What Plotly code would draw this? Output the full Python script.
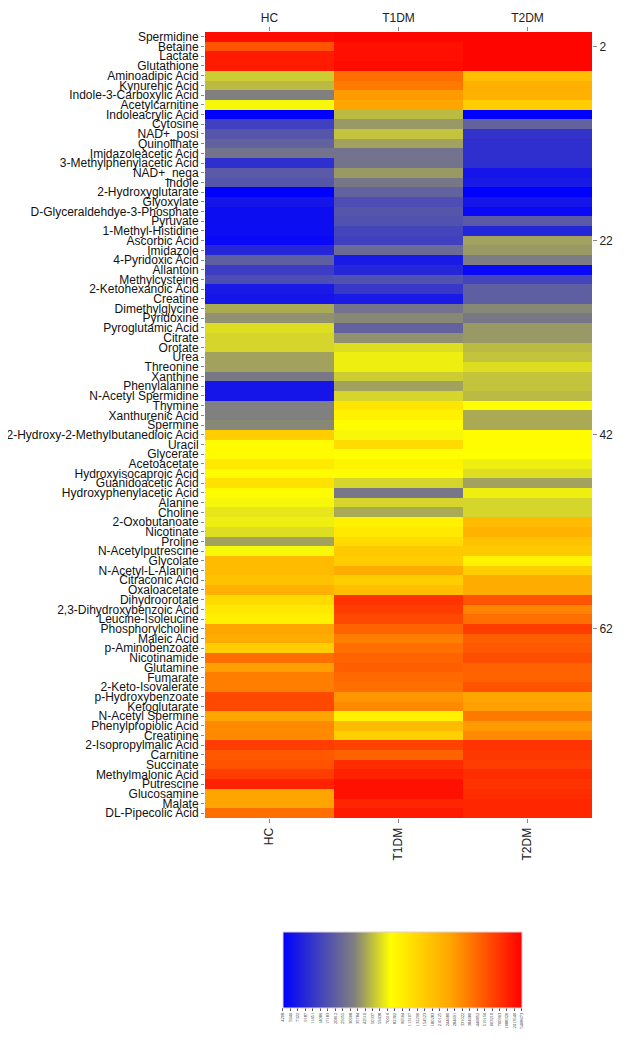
import plotly.graph_objects as go

groups = ["HC", "T1DM", "T2DM"]

metabolites = [
    "Spermidine", "Betaine", "Lactate", "Glutathione", "Aminoadipic Acid",
    "Kynurenic Acid", "Indole-3-Carboxylic Acid", "Acetylcarnitine", "Indoleacrylic Acid", "Cytosine",
    "NAD+_posi", "Quinolinate", "Imidazoleacetic Acid", "3-Methylphenylacetic Acid", "NAD+_nega",
    "Indole", "2-Hydroxyglutarate", "Glyoxylate", "D-Glyceraldehdye-3-Phosphate", "Pyruvate",
    "1-Methyl-Histidine", "Ascorbic Acid", "Imidazole", "4-Pyridoxic Acid", "Allantoin",
    "Methylcysteine", "2-Ketohexanoic Acid", "Creatine", "Dimethylglycine", "Pyridoxine",
    "Pyroglutamic Acid", "Citrate", "Orotate", "Urea", "Threonine",
    "Xanthine", "Phenylalanine", "N-Acetyl Spermidine", "Thymine", "Xanthurenic Acid",
    "Spermine", "2-Hydroxy-2-Methylbutanedioic Acid", "Uracil", "Glycerate", "Acetoacetate",
    "Hydroxyisocaproic Acid", "Guanidoacetic Acid", "Hydroxyphenylacetic Acid", "Alanine", "Choline",
    "2-Oxobutanoate", "Nicotinate", "Proline", "N-Acetylputrescine", "Glycolate",
    "N-Acetyl-L-Alanine", "Citraconic Acid", "Oxaloacetate", "Dihydroorotate", "2,3-Dihydroxybenzoic Acid",
    "Leucine-Isoleucine", "Phosphorylcholine", "Maleic Acid", "p-Aminobenzoate", "Nicotinamide",
    "Glutamine", "Fumarate", "2-Keto-Isovalerate", "p-Hydroxybenzoate", "Ketoglutarate",
    "N-Acetyl Spermine", "Phenylpropiolic Acid", "Creatinine", "2-Isopropylmalic Acid", "Carnitine",
    "Succinate", "Methylmalonic Acid", "Putrescine", "Glucosamine", "Malate",
    "DL-Pipecolic Acid",
]

hc = [98, 85, 95, 95, 39, 37, 30, 44, 0, 15,
      20, 23, 27, 11, 21, 20, 0, 5, 3, 3,
      3, 2, 9, 22, 14, 18, 6, 5, 35, 32,
      41, 40, 40, 34, 34, 28, 5, 5, 30, 30,
      31, 59, 46, 46, 51, 46, 53, 46, 44, 42,
      43, 41, 34, 44, 64, 64, 62, 67, 55, 51,
      49, 70, 68, 59, 80, 71, 77, 77, 87, 87,
      70, 75, 75, 89, 84, 85, 89, 94, 70, 70,
      80]

t1dm = [99, 97, 97, 98, 80, 78, 72, 70, 37, 33,
        38, 34, 27, 27, 33, 28, 23, 18, 20, 19,
        16, 15, 25, 6, 9, 19, 13, 6, 27, 31,
        23, 32, 41, 43, 43, 39, 34, 40, 52, 49,
        46, 44, 55, 45, 48, 46, 40, 28, 40, 35,
        49, 51, 55, 60, 59, 68, 59, 63, 91, 89,
        87, 82, 77, 80, 82, 83, 81, 80, 73, 75,
        49, 64, 58, 88, 82, 92, 94, 97, 97, 93,
        95]

t2dm = [99, 99, 99, 99, 63, 67, 67, 59, 0, 23,
        12, 11, 11, 11, 5, 6, 0, 5, 2, 21,
        9, 34, 33, 29, 2, 16, 22, 22, 31, 28,
        33, 33, 37, 38, 41, 38, 38, 37, 45, 35,
        35, 46, 46, 45, 43, 41, 34, 43, 40, 40,
        64, 66, 62, 60, 48, 59, 68, 68, 85, 76,
        80, 89, 83, 84, 86, 82, 82, 85, 70, 71,
        78, 72, 75, 91, 90, 89, 92, 91, 92, 93,
        93]

colorbar_labels = [
    "4208", "5646", "7322", "9187", "11451", "14086", "17183", "20812", "25055",
    "30008", "35784", "42510", "50337", "59438", "70016", "82302", "96564",
    "113107", "132290", "154523", "180283", "210125", "244680", "284691",
    "331022", "384680", "446852", "519156", "603210", "700963", "1088320",
    "2413540", "5408673",
]

right_ticks = [2, 22, 42, 62]

n = len(metabolites)
rows = list(range(1, n + 1))
z = [[hc[i], t1dm[i], t2dm[i]] for i in range(n)]

colorscale = [
    [0.0, "#0000FF"],
    [0.30, "#808080"],
    [0.45, "#FFFF00"],
    [0.70, "#FFA500"],
    [1.0, "#FF0000"],
]

nl = len(colorbar_labels)
cb_vals = [100 * k / (nl - 1) for k in range(nl)]

fig = go.Figure()
fig.add_trace(go.Heatmap(
    z=z, x=[0, 1, 2], y=rows,
    zmin=0, zmax=100,
    colorscale=colorscale,
    xgap=0, ygap=0,
    colorbar=dict(
        orientation="h",
        x=0.51, xanchor="center",
        y=-0.132, yanchor="top",
        lenmode="pixels", len=259,
        thickness=76,
        outlinewidth=1, outlinecolor="#e6d0d6",
        tickmode="array", tickvals=cb_vals, ticktext=colorbar_labels,
        ticks="outside", ticklen=3, tickwidth=1, tickcolor="#555",
        tickangle=-90,
        tickfont=dict(size=4.5, color="#222", family="Liberation Sans Narrow"),
    ),
    hoverinfo="skip",
))

fig.add_trace(go.Scatter(
    x=[0, 1, 2], y=[1, 1, 1], xaxis="x2", yaxis="y2",
    mode="markers", marker=dict(opacity=0), showlegend=False, hoverinfo="skip",
))

label_font = dict(family="Liberation Sans Narrow, Arial Narrow, sans-serif", size=12, color="#111")
grp_font = dict(family="Liberation Sans, Arial, sans-serif", size=12, color="#222")

fig.update_layout(
    width=621, height=1042,
    margin=dict(l=197, r=37, t=24, b=232, autoexpand=False),
    paper_bgcolor="white", plot_bgcolor="white",
    showlegend=False,
    xaxis=dict(
        range=[-0.5, 2.5], tickmode="array", tickvals=[0, 1, 2], ticktext=groups,
        ticks="outside", ticklen=4, tickcolor="#888", tickangle=-90, automargin=False,
        tickfont=grp_font, showgrid=False, zeroline=False, showline=False,
    ),
    xaxis2=dict(
        overlaying="x", side="top", matches="x", automargin=False,
        range=[-0.5, 2.5], tickmode="array", tickvals=[0, 1, 2], ticktext=groups,
        ticks="outside", ticklen=4, tickcolor="#888", tickangle=0,
        tickfont=grp_font, showgrid=False, zeroline=False, showline=False,
    ),
    yaxis=dict(
        range=[n + 0.5, 0.5], tickmode="array", tickvals=rows, ticktext=metabolites,
        ticks="outside", ticklen=3, tickcolor="#888", automargin=False,
        tickfont=label_font, showgrid=False, zeroline=False, showline=False,
    ),
    yaxis2=dict(
        overlaying="y", side="right", automargin=False,
        range=[n + 0.5, 0.5], tickmode="array", tickvals=right_ticks,
        ticktext=[str(v) for v in right_ticks],
        ticks="outside", ticklen=4, tickcolor="#888",
        tickfont=grp_font, showgrid=False, zeroline=False, showline=False,
    ),
)

fig.write_html("out.html")
